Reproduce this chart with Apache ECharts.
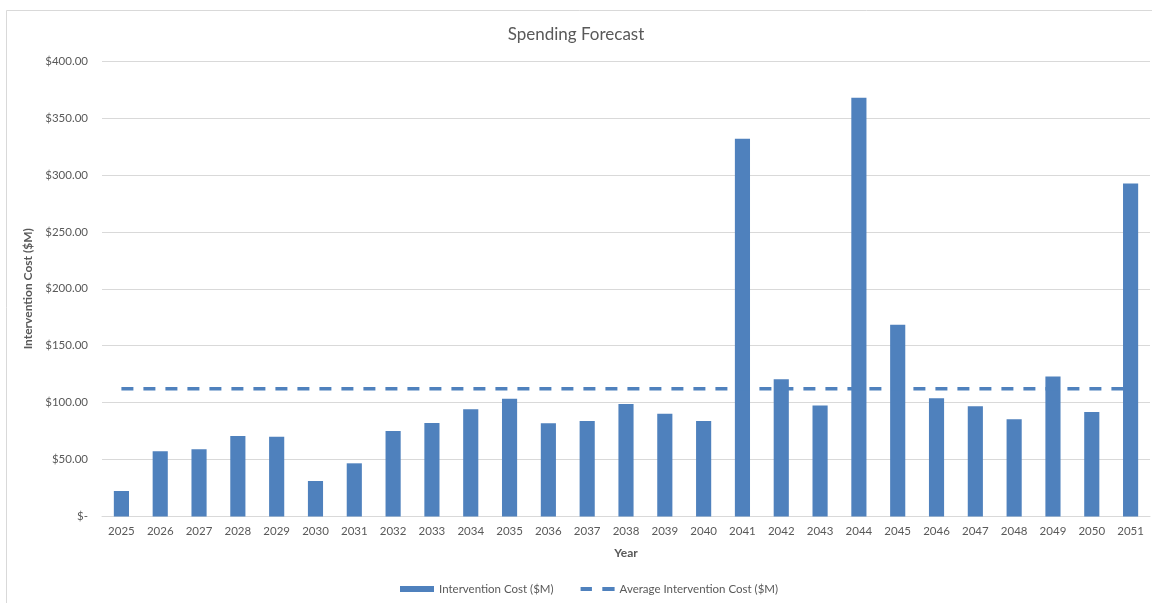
<!DOCTYPE html>
<html>
<head>
<meta charset="utf-8">
<title>Spending Forecast</title>
<script src="https://cdn.jsdelivr.net/npm/echarts@6/dist/echarts.min.js"></script>
<style>
  html, body { margin: 0; padding: 0; background: #ffffff; }
  #chart { width: 1152px; height: 603px; }
</style>
</head>
<body>
<div id="chart"></div>
<script>
// Forecast years (category axis)
const years = ['2025','2026','2027','2028','2029','2030','2031','2032','2033','2034',
  '2035','2036','2037','2038','2039','2040','2041','2042','2043','2044',
  '2045','2046','2047','2048','2049','2050','2051'];

// Yearly intervention cost, $M
const interventionCost = [22.4, 57.3, 59.0, 70.7, 70.1, 31.2, 46.7, 75.1, 82.2, 94.2,
  103.3, 81.9, 83.9, 98.9, 90.3, 83.9, 331.7, 120.6, 97.4, 367.8,
  168.3, 103.9, 96.8, 85.4, 122.9, 91.8, 292.5];

// Average intervention cost over the period, $M
const averageCost = 112.2;

// Value axis ticks, $M
const yTicks = [0, 50, 100, 150, 200, 250, 300, 350, 400];

const FONT = 'Lato';
const TEXT = '#595959';
const GRID = '#d9d9d9';
const BLUE = '#4F81BD';

// Legend glyph for the dashed average line: two dashes in a 36x6 box
// (the tiny corner squares keep the path's bounds at full box size)
const DASH_ICON = 'path://M0,0h0.05v0.05h-0.05z M35.95,5.95h0.05v0.05h-0.05z M0,1h12v4h-12z M23,1h13v4h-13z';

const chart = echarts.init(document.getElementById('chart'), null, { renderer: 'canvas' });

chart.setOption({
  backgroundColor: '#ffffff',
  animation: false,
  textStyle: { fontFamily: FONT, color: TEXT },
  graphic: [{
    type: 'rect',
    silent: true,
    shape: { x: 6.5, y: 10.5, width: 1170, height: 640 },
    style: { fill: 'none', stroke: GRID, lineWidth: 1 }
  }],
  title: {
    text: 'Spending Forecast',
    left: 'center',
    top: 21,
    textStyle: { fontFamily: FONT, fontSize: 17, fontWeight: 'normal', color: TEXT }
  },
  legend: {
    bottom: 3,
    left: 395,
    itemWidth: 34,
    itemHeight: 6,
    itemGap: 27,
    textStyle: { fontFamily: FONT, fontSize: 11.5, color: TEXT },
    data: [
      { name: 'Intervention Cost ($M)', icon: 'rect' },
      { name: 'Average Intervention Cost ($M)', icon: DASH_ICON }
    ]
  },
  grid: { left: 102, right: 2, top: 61, bottom: 86.5, containLabel: false },
  xAxis: {
    type: 'category',
    data: years,
    name: 'Year',
    nameLocation: 'middle',
    nameGap: 31,
    nameTextStyle: { fontFamily: FONT, fontSize: 12, fontWeight: 'bold', color: TEXT },
    axisLine: { lineStyle: { color: GRID, width: 1 } },
    axisTick: { show: false },
    axisLabel: { fontFamily: FONT, fontSize: 11.5, color: TEXT, margin: 9, interval: 0 }
  },
  yAxis: {
    type: 'value',
    min: yTicks[0],
    max: yTicks[yTicks.length - 1],
    interval: yTicks[1] - yTicks[0],
    name: 'Intervention Cost ($M)',
    nameLocation: 'middle',
    nameRotate: 90,
    nameGap: 64,
    nameTextStyle: { fontFamily: FONT, fontSize: 12, fontWeight: 'bold', color: TEXT },
    axisLine: { show: false },
    axisTick: { show: false },
    splitLine: { lineStyle: { color: GRID, width: 1 } },
    axisLabel: {
      fontFamily: FONT, fontSize: 11.5, color: TEXT, margin: 14,
      formatter: v => v === 0 ? '$-' : '$' + v.toFixed(2)
    }
  },
  series: [
    {
      name: 'Intervention Cost ($M)',
      type: 'bar',
      data: interventionCost,
      barWidth: '39%',
      itemStyle: { color: BLUE }
    },
    {
      name: 'Average Intervention Cost ($M)',
      type: 'line',
      data: years.map(() => averageCost),
      symbol: 'none',
      showSymbol: false,
      z: 3,
      lineStyle: { color: BLUE, width: 3.5, type: [12, 10] },
      itemStyle: { color: BLUE }
    }
  ]
});
</script>
</body>
</html>
